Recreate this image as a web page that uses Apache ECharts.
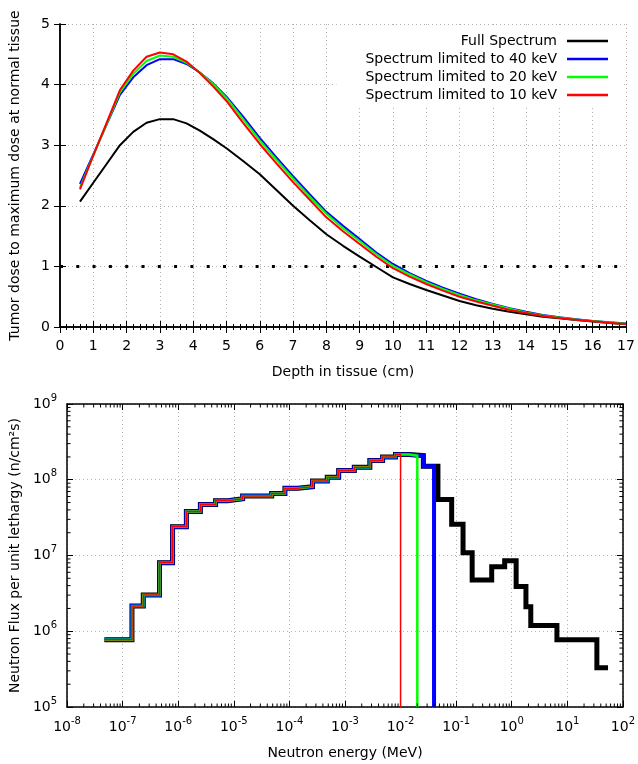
<!DOCTYPE html>
<html>
<head>
<meta charset="utf-8">
<script src="https://cdn.jsdelivr.net/npm/echarts@6/dist/echarts.min.js"></script>
<style>
  html, body { margin: 0; padding: 0; background: #fff; }
  #chart { width: 638px; height: 764px; }
</style>
</head>
<body>
<div id="chart"></div>
<script>
// top panel: dose ratio vs depth
const depth = [0.6, 1.0, 1.4, 1.8, 2.2, 2.6, 3.0, 3.4, 3.8, 4.2, 4.6, 5.0, 5.5, 6.0, 6.5, 7.0, 7.5, 8.0, 8.5, 9.0,
  9.5, 10.0, 10.5, 11.0, 11.5, 12.0, 12.5, 13.0, 13.5, 14.0, 14.5, 15.0, 15.5, 16.0, 16.5, 17.0];
const doseFull = [2.07, 2.38, 2.69, 3.00, 3.22, 3.37, 3.43, 3.43, 3.36, 3.24, 3.10, 2.95, 2.74, 2.52, 2.26, 2.00, 1.76,
  1.53, 1.34, 1.16, 0.99, 0.82, 0.71, 0.61, 0.52, 0.43, 0.36, 0.30, 0.25, 0.21, 0.17, 0.145, 0.115, 0.09, 0.065, 0.045];
const dose40 = [2.36, 2.85, 3.34, 3.83, 4.12, 4.32, 4.42, 4.42, 4.34, 4.20, 4.02, 3.80, 3.47, 3.12, 2.80, 2.49, 2.19,
  1.90, 1.67, 1.45, 1.23, 1.04, 0.89, 0.76, 0.65, 0.55, 0.46, 0.38, 0.31, 0.25, 0.20, 0.16, 0.13, 0.10, 0.077, 0.056];
const dose20 = [2.30, 2.83, 3.35, 3.87, 4.18, 4.39, 4.48, 4.46, 4.36, 4.20, 4.01, 3.78, 3.43, 3.08, 2.76, 2.45, 2.15,
  1.87, 1.63, 1.42, 1.20, 1.01, 0.87, 0.74, 0.63, 0.53, 0.44, 0.37, 0.30, 0.24, 0.19, 0.155, 0.125, 0.10, 0.075, 0.055];
const dose10 = [2.27, 2.83, 3.37, 3.91, 4.23, 4.46, 4.53, 4.50, 4.38, 4.19, 3.97, 3.73, 3.37, 3.02, 2.70, 2.39, 2.10,
  1.81, 1.58, 1.37, 1.16, 0.97, 0.83, 0.71, 0.60, 0.50, 0.42, 0.35, 0.28, 0.23, 0.18, 0.15, 0.12, 0.095, 0.07, 0.05];
const refLevel = 1;

// bottom panel: neutron spectrum (bin edges in MeV, flux per bin)
const energyEdges = [4.7e-8, 1.47e-7, 2.35e-7, 4.6e-7, 7.9e-7, 1.4e-6, 2.5e-6, 4.7e-6, 7.8e-6, 1.44e-5, 4.8e-5,
  8.3e-5, 1.42e-4, 2.6e-4, 4.8e-4, 7.7e-4, 1.47e-3, 2.8e-3, 4.75e-3, 8.1e-3, 1.43e-2, 2.57e-2, 4.7e-2, 8.3e-2,
  0.133, 0.194, 0.436, 0.746, 1.2, 1.8, 2.2, 6.5, 34, 54];
const fluxValues = [7.7e5, 2.15e6, 3.0e6, 8.0e6, 2.4e7, 3.8e7, 4.7e7, 5.3e7, 5.6e7, 6.1e7, 6.6e7, 7.7e7, 8.1e7,
  9.6e7, 1.08e8, 1.32e8, 1.46e8, 1.79e8, 2.0e8, 2.15e8, 2.08e8, 1.51e8, 5.5e7, 2.58e7, 1.09e7, 4.75e6, 7.1e6,
  8.5e6, 3.9e6, 2.1e6, 1.19e6, 7.7e5, 3.3e5];
const cutoffs = [0.04, 0.02, 0.01]; // MeV

const names = ['Full Spectrum', 'Spectrum limited to 40 keV', 'Spectrum limited to 20 keV', 'Spectrum limited to 10 keV'];
const colors = ['#000000', '#0000ff', '#00ff00', '#ff0000'];

const FONT = 'DejaVu Sans';
const fluxMin = 1e5, fluxMax = 1e9, eMin = 1e-8, eMax = 1e2;

function pairs(xs, ys) {
  return xs.map((x, i) => [x, ys[i]]);
}

// histogram outline, optionally cut at an energy and dropped to the floor
function stepData(cut) {
  const out = [];
  let i = 0;
  for (; i < fluxValues.length; i++) {
    if (cut != null && energyEdges[i] >= cut) break;
    out.push([energyEdges[i], fluxValues[i]]);
  }
  const last = fluxValues[i - 1];
  if (cut == null) {
    out.push([energyEdges[energyEdges.length - 1], last]);
  } else {
    out.push([cut, last]);
    out.push([cut, fluxMin]);
  }
  return out;
}

// gnuplot style log minor ticks (2..9 per decade)
const xMinor = [];
for (let d = -8; d < 2; d++) {
  for (let k = 2; k <= 9; k++) xMinor.push([k * Math.pow(10, d), fluxMin]);
}
const yMinor = [];
for (let d = 5; d < 9; d++) {
  for (let k = 2; k <= 9; k++) yMinor.push([eMin, k * Math.pow(10, d)]);
}

const chart = echarts.init(document.getElementById('chart'));

const axisLine = { lineStyle: { color: '#000', width: 1.5 } };
const gridLine = { show: true, lineStyle: { color: '#b0b0b0', width: 1, type: [1, 3] } };
const labelStyle = { color: '#000', fontSize: 14, fontFamily: FONT };
const tick = { inside: true, length: 6, lineStyle: { color: '#000' } };
const supFmt = v => '10{sup|' + Math.round(Math.log10(v)) + '}';
const supRich = { sup: { fontSize: 10, fontFamily: FONT, color: '#000', verticalAlign: 'top', lineHeight: 10 } };

function tickSeries(data, vertical) {
  return {
    type: 'custom', xAxisIndex: 2, yAxisIndex: 2, silent: true, z: 10, clip: false,
    data: data,
    renderItem(params, api) {
      const style = { stroke: '#000', lineWidth: 1 };
      const len = 3.5;
      let a, b;
      if (vertical) {
        const v = api.value(0);
        a = api.coord([v, fluxMin]);
        b = api.coord([v, fluxMax]);
        return { type: 'group', children: [
          { type: 'line', shape: { x1: a[0], y1: a[1], x2: a[0], y2: a[1] - len }, style },
          { type: 'line', shape: { x1: b[0], y1: b[1], x2: b[0], y2: b[1] + len }, style },
        ] };
      }
      const w = api.value(1);
      a = api.coord([eMin, w]);
      b = api.coord([eMax, w]);
      return { type: 'group', children: [
        { type: 'line', shape: { x1: a[0], y1: a[1], x2: a[0] + len, y2: a[1] }, style },
        { type: 'line', shape: { x1: b[0], y1: b[1], x2: b[0] - len, y2: b[1] }, style },
      ] };
    },
  };
}

chart.setOption({
  animation: false,
  backgroundColor: '#fff',
  textStyle: { fontFamily: FONT },
  grid: [
    { left: 57, right: 12, top: 24, height: 303 },
    { left: 57, right: 12, top: 404, height: 303 },
  ],
  legend: {
    data: names,
    orient: 'vertical',
    align: 'right',
    right: 14,
    top: 26,
    padding: [8, 16, 3, 29],
    backgroundColor: '#fff',
    itemGap: 4,
    itemWidth: 41,
    itemHeight: 2.5,
    icon: 'rect',
    textStyle: { fontSize: 14, fontFamily: FONT, color: '#000', lineHeight: 14, padding: [0, 5, 0, 0] },
  },
  xAxis: [
    {
      gridIndex: 0, type: 'value', min: 0, max: 17, interval: 1,
      name: 'Depth in tissue (cm)', nameLocation: 'middle', nameGap: 38,
      nameTextStyle: labelStyle,
      axisLine, axisTick: tick,
      minorTick: { show: true, splitNumber: 5, length: 3, lineStyle: { color: '#000' } },
      axisLabel: Object.assign({ margin: 12 }, labelStyle),
      splitLine: gridLine,
    },
    {
      gridIndex: 0, type: 'value', position: 'top', min: 0, max: 17, interval: 1,
      axisLine, axisTick: tick,
      minorTick: { show: true, splitNumber: 5, length: 3, lineStyle: { color: '#000' } },
      axisLabel: { show: false }, splitLine: { show: false },
    },
    {
      gridIndex: 1, type: 'log', logBase: 10, min: eMin, max: eMax, interval: 1,
      name: 'Neutron energy (MeV)', nameLocation: 'middle', nameGap: 39,
      nameTextStyle: labelStyle,
      axisLine, axisTick: tick,
      axisLabel: Object.assign({ margin: 9, formatter: supFmt, rich: supRich, lineHeight: 22, interval: 0 }, labelStyle),
      splitLine: gridLine,
    },
    {
      gridIndex: 1, type: 'log', logBase: 10, position: 'top', min: eMin, max: eMax, interval: 1,
      axisLine, axisTick: tick,
      axisLabel: { show: false }, splitLine: { show: false },
    },
  ],
  yAxis: [
    {
      gridIndex: 0, type: 'value', min: 0, max: 5, interval: 1,
      name: 'Tumor dose to maximum dose at normal tissue', nameLocation: 'middle', nameGap: 38,
      nameTextStyle: labelStyle,
      axisLine, axisTick: tick,
      axisLabel: Object.assign({ margin: 10 }, labelStyle),
      splitLine: gridLine,
    },
    {
      gridIndex: 0, type: 'value', position: 'right', min: 0, max: 5, interval: 1,
      axisLine, axisTick: tick,
      axisLabel: { show: false }, splitLine: { show: false },
    },
    {
      gridIndex: 1, type: 'log', logBase: 10, min: fluxMin, max: fluxMax, interval: 1,
      name: 'Neutron Flux per unit lethargy (n/cm\u00b2s)', nameLocation: 'middle', nameGap: 39,
      nameTextStyle: labelStyle,
      axisLine, axisTick: tick,
      axisLabel: Object.assign({ margin: 10, formatter: supFmt, rich: supRich, lineHeight: 22 }, labelStyle),
      splitLine: gridLine,
    },
    {
      gridIndex: 1, type: 'log', logBase: 10, position: 'right', min: fluxMin, max: fluxMax, interval: 1,
      axisLine, axisTick: tick,
      axisLabel: { show: false }, splitLine: { show: false },
    },
  ],
  series: [
    {
      name: 'ref', type: 'line', xAxisIndex: 0, yAxisIndex: 0, showSymbol: false, silent: true,
      data: [[0, refLevel], [17, refLevel]],
      lineStyle: { color: '#000', width: 3, type: [3, 13.3] },
    },
    ...[doseFull, dose40, dose20, dose10].map((d, i) => ({
      name: names[i], type: 'line', xAxisIndex: 0, yAxisIndex: 0,
      showSymbol: false, data: pairs(depth, d),
      color: colors[i],
      lineStyle: { color: colors[i], width: 2 },
      z: 3 + i,
    })),
    ...[null, ...cutoffs].map((c, i) => ({
      name: names[i] + ' flux', type: 'line', xAxisIndex: 2, yAxisIndex: 2,
      step: 'end', showSymbol: false, data: stepData(c),
      lineStyle: { color: colors[i], width: [5, 4, 2.5, 1.5][i], join: 'miter', cap: 'butt' },
      z: 3 + i,
    })),
    tickSeries(xMinor, true),
    tickSeries(yMinor, false),
  ],
});
</script>
</body>
</html>
